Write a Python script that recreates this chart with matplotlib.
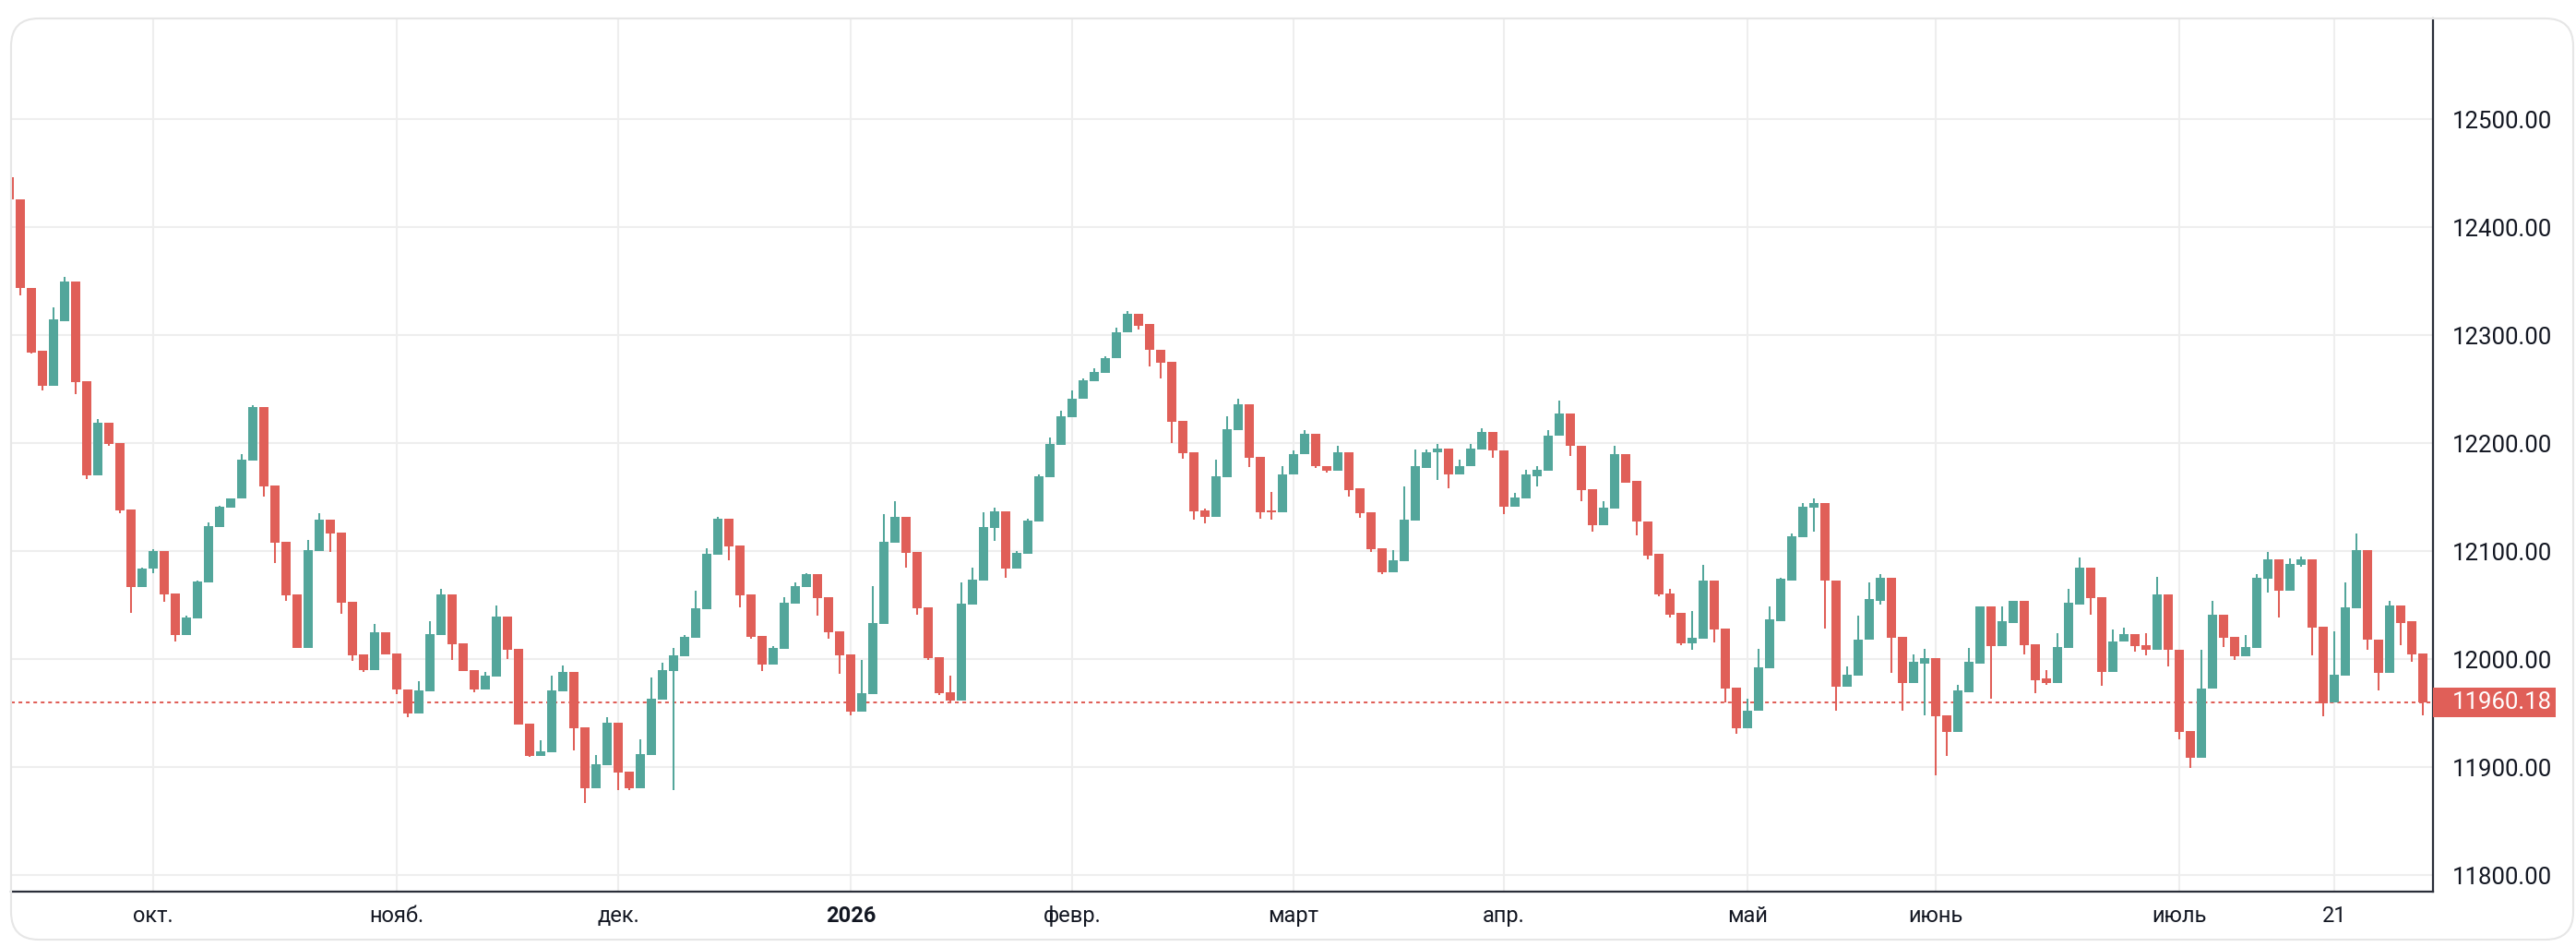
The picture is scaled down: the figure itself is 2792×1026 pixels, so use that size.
import matplotlib.pyplot as plt
from matplotlib.patches import Rectangle, FancyBboxPatch
from matplotlib.transforms import blended_transform_factory, IdentityTransform

plt.rcParams['font.family'] = ['Roboto', 'DejaVu Sans']

# daily candles (trading days, left to right)
opens = [
    12446.7, 12426.0, 12344.0, 12285.3, 12253.0, 12313.4, 12349.3, 12257.2, 12170.3, 12218.6,
    12200.0, 12138.2, 12067.0, 12083.7, 12100.0, 12060.8, 12022.5, 12037.9, 12071.2, 12122.5,
    12140.5, 12149.0, 12184.0, 12233.3, 12160.5, 12108.5, 12059.8, 12010.5, 12100.3, 12129.0,
    12117.0, 12053.0, 12004.2, 11990.2, 12024.8, 12005.0, 11971.8, 11949.9, 11970.4, 12022.5,
    12059.8, 12014.5, 11989.7, 11972.1, 11984.0, 12039.3, 12009.4, 11940.2, 11910.3, 11914.0,
    11970.4, 11988.0, 11936.8, 11880.6, 11902.0, 11941.0, 11895.7, 11880.6, 11911.4, 11962.7,
    11989.2, 12002.8, 12019.9, 12046.2, 12096.6, 12129.9, 12105.1, 12059.8, 12021.4, 11994.9,
    12009.4, 12051.3, 12066.7, 12078.6, 12057.3, 12025.6, 12004.3, 11951.3, 11967.5, 12032.5,
    12107.7, 12131.6, 12099.1, 12047.9, 12001.7, 11969.2, 11961.5, 12050.4, 12072.6, 12121.2,
    12136.6, 12083.7, 12097.3, 12127.2, 12168.2, 12198.1, 12223.7, 12240.8, 12257.0, 12264.7,
    12278.4, 12302.3, 12320.2, 12310.0, 12286.9, 12275.0, 12220.3, 12191.3, 12137.5, 12131.5,
    12168.2, 12211.8, 12235.7, 12187.0, 12137.5, 12135.7, 12170.7, 12189.5, 12209.1, 12179.2,
    12174.1, 12191.2, 12157.9, 12135.7, 12102.4, 12080.2, 12090.5, 12128.0, 12177.5, 12191.2,
    12195.4, 12170.7, 12178.4, 12194.6, 12210.0, 12193.7, 12140.8, 12148.5, 12169.8, 12174.1,
    12206.6, 12227.9, 12198.0, 12157.8, 12124.5, 12139.9, 12190.3, 12164.7, 12127.9, 12097.2,
    12060.5, 12042.5, 12015.1, 12019.4, 12072.4, 12028.8, 11974.1, 11936.5, 11951.9, 11991.2,
    12035.6, 12073.2, 12113.4, 12140.7, 12145.0, 12073.2, 11974.4, 11985.2, 12017.7, 12054.4,
    12075.8, 12021.1, 11978.3, 11996.3, 12001.4, 11948.4, 11933.0, 11969.8, 11996.3, 12049.3,
    12012.5, 12033.9, 12053.6, 12014.2, 11981.8, 11978.3, 12010.8, 12051.0, 12085.2, 12057.8,
    11988.6, 12016.0, 12023.6, 12013.4, 12008.3, 12060.4, 12009.1, 11933.9, 11908.3, 11972.4,
    12041.6, 12021.1, 12003.1, 12010.8, 12074.9, 12092.9, 12063.8, 12087.7, 12092.9, 12030.5,
    11959.8, 11985.2, 12047.6, 12101.4, 12018.5, 11987.7, 12050.1, 12034.8, 12005.7,
]
highs = [
    12446.7, 12426.0, 12344.0, 12285.3, 12325.5, 12353.6, 12349.3, 12257.2, 12222.2, 12218.6,
    12200.0, 12138.2, 12084.6, 12101.6, 12100.0, 12060.8, 12040.2, 12072.5, 12126.5, 12141.8,
    12149.3, 12189.5, 12235.0, 12233.3, 12160.5, 12108.5, 12059.8, 12110.1, 12135.0, 12129.0,
    12117.0, 12053.0, 12004.2, 12032.4, 12024.8, 12005.0, 11971.8, 11979.5, 12035.0, 12065.0,
    12059.8, 12014.5, 11989.7, 11988.0, 12049.6, 12039.3, 12009.4, 11940.2, 11924.8, 11984.6,
    11994.0, 11988.0, 11936.8, 11911.1, 11946.2, 11941.0, 11895.7, 11925.6, 11982.9, 11996.6,
    12010.3, 12022.2, 12063.2, 12102.6, 12131.6, 12129.9, 12105.1, 12059.8, 12021.4, 12012.0,
    12057.3, 12070.9, 12079.5, 12078.6, 12057.3, 12025.6, 12004.3, 11999.1, 12067.5, 12134.2,
    12146.2, 12131.6, 12099.1, 12047.9, 12001.7, 11984.6, 12070.9, 12084.6, 12135.9, 12140.0,
    12136.6, 12099.9, 12129.8, 12170.8, 12204.9, 12229.7, 12249.3, 12259.6, 12269.0, 12280.1,
    12307.4, 12322.8, 12320.2, 12310.0, 12286.9, 12275.0, 12220.3, 12191.3, 12139.2, 12184.4,
    12224.6, 12241.6, 12235.7, 12187.0, 12154.5, 12179.2, 12193.7, 12211.7, 12209.1, 12179.2,
    12198.0, 12191.2, 12157.9, 12135.7, 12102.4, 12100.7, 12159.6, 12194.6, 12194.6, 12199.7,
    12195.4, 12184.4, 12199.7, 12214.2, 12210.0, 12193.7, 12153.6, 12175.8, 12179.2, 12211.7,
    12239.9, 12227.9, 12198.0, 12157.8, 12145.9, 12198.0, 12190.3, 12164.7, 12127.9, 12097.2,
    12064.7, 12042.5, 12045.0, 12087.7, 12072.4, 12028.8, 11974.1, 11963.8, 12009.9, 12049.3,
    12075.8, 12116.0, 12145.0, 12149.3, 12145.0, 12073.2, 11993.7, 12040.7, 12071.5, 12079.2,
    12075.8, 12021.1, 12004.8, 12010.0, 12001.4, 11948.4, 11976.6, 12010.8, 12049.3, 12049.3,
    12049.3, 12054.4, 12053.6, 12014.2, 11989.5, 12024.5, 12064.7, 12094.6, 12085.2, 12057.8,
    12027.9, 12029.6, 12023.6, 12024.5, 12076.6, 12060.4, 12009.1, 11933.9, 12008.3, 12054.4,
    12041.6, 12021.1, 12022.8, 12079.2, 12099.7, 12092.9, 12093.7, 12095.4, 12092.9, 12030.5,
    12026.2, 12070.7, 12116.0, 12101.4, 12018.5, 12054.4, 12050.1, 12034.8, 12005.7,
]
lows = [
    12425.5, 12336.9, 12283.0, 12248.7, 12253.0, 12313.4, 12245.4, 12167.0, 12170.3, 12198.0,
    12135.3, 12043.1, 12067.0, 12079.4, 12053.0, 12016.7, 12022.5, 12037.9, 12071.2, 12122.5,
    12140.5, 12149.0, 12184.0, 12150.7, 12089.2, 12054.2, 12010.5, 12010.5, 12100.3, 12099.3,
    12041.8, 11998.7, 11988.2, 11990.2, 12004.6, 11968.0, 11946.4, 11949.9, 11970.4, 12022.5,
    11999.1, 11989.2, 11969.2, 11972.1, 11984.0, 12000.0, 11939.6, 11909.4, 11910.3, 11914.0,
    11970.4, 11915.7, 11866.9, 11880.6, 11902.0, 11878.9, 11878.9, 11880.6, 11911.4, 11962.7,
    11878.9, 12002.8, 12019.9, 12046.2, 12096.6, 12091.5, 12047.9, 12018.8, 11988.9, 11994.9,
    12009.4, 12051.3, 12066.7, 12040.2, 12018.8, 11986.3, 11947.9, 11951.3, 11967.5, 12032.5,
    12107.7, 12084.6, 12041.0, 11999.1, 11966.7, 11959.8, 11961.5, 12050.4, 12072.6, 12109.3,
    12075.1, 12083.7, 12097.3, 12127.2, 12168.2, 12198.1, 12223.7, 12240.8, 12257.0, 12264.7,
    12278.4, 12302.3, 12305.7, 12271.5, 12259.6, 12199.8, 12185.3, 12128.9, 12125.5, 12131.5,
    12168.2, 12211.8, 12177.6, 12129.8, 12128.9, 12135.7, 12170.7, 12189.5, 12177.5, 12172.4,
    12174.1, 12151.0, 12130.6, 12099.0, 12078.5, 12080.2, 12090.5, 12128.0, 12177.5, 12166.4,
    12158.7, 12170.7, 12178.4, 12194.6, 12186.1, 12134.0, 12140.8, 12148.5, 12159.6, 12174.1,
    12206.6, 12188.6, 12146.7, 12118.5, 12124.5, 12139.9, 12163.0, 12115.1, 12092.9, 12058.7,
    12039.0, 12013.4, 12009.1, 12019.4, 12015.9, 11960.4, 11931.3, 11936.5, 11951.9, 11991.2,
    12035.6, 12073.2, 12113.4, 12118.5, 12028.8, 11951.9, 11974.4, 11985.2, 12017.7, 12051.0,
    11987.7, 11952.7, 11978.3, 11948.4, 11892.9, 11910.8, 11933.0, 11969.8, 11996.3, 11963.8,
    12012.5, 12033.9, 12004.8, 11968.9, 11976.6, 11978.3, 12010.8, 12051.0, 12041.6, 11975.8,
    11988.6, 12016.0, 12006.6, 12004.0, 12008.3, 11993.7, 11925.4, 11898.9, 11908.3, 11972.4,
    12011.7, 11998.9, 12003.1, 12010.8, 12062.1, 12039.0, 12063.8, 12086.0, 12004.0, 11947.6,
    11959.8, 11985.2, 12047.6, 12009.1, 11971.5, 11987.7, 12013.4, 11997.2, 11948.4,
]
closes = [
    12425.5, 12343.8, 12284.3, 12252.9, 12314.4, 12349.3, 12256.2, 12170.3, 12218.6, 12199.0,
    12137.9, 12067.0, 12083.7, 12100.0, 12060.1, 12022.5, 12038.6, 12071.9, 12122.9, 12140.8,
    12149.3, 12184.6, 12233.3, 12160.1, 12107.8, 12059.2, 12010.5, 12100.7, 12129.0, 12116.3,
    12052.3, 12003.9, 11990.2, 12024.8, 12004.6, 11972.0, 11949.9, 11970.9, 12023.1, 12059.8,
    12014.0, 11989.2, 11972.1, 11984.6, 12039.3, 12008.8, 11939.6, 11910.3, 11914.5, 11970.9,
    11988.0, 11936.2, 11880.6, 11902.6, 11941.0, 11895.2, 11880.6, 11912.0, 11963.2, 11989.7,
    12003.4, 12020.5, 12047.0, 12097.4, 12129.9, 12104.3, 12059.0, 12020.5, 11994.9, 12010.3,
    12052.1, 12067.5, 12078.6, 12056.4, 12024.8, 12003.4, 11951.3, 11968.4, 12033.3, 12108.5,
    12131.6, 12098.3, 12047.0, 12000.9, 11968.4, 11961.5, 12051.3, 12073.5, 12122.2, 12136.6,
    12083.7, 12098.2, 12128.1, 12169.1, 12198.9, 12224.6, 12241.6, 12257.9, 12265.6, 12279.2,
    12303.1, 12320.2, 12309.1, 12286.1, 12274.1, 12219.4, 12190.4, 12136.6, 12131.5, 12169.1,
    12212.6, 12235.7, 12186.1, 12135.8, 12135.8, 12171.5, 12190.3, 12209.1, 12178.4, 12174.1,
    12191.2, 12157.0, 12134.9, 12101.6, 12080.2, 12091.3, 12128.9, 12178.4, 12192.0, 12195.4,
    12170.7, 12179.2, 12195.4, 12210.0, 12192.9, 12140.8, 12149.4, 12170.7, 12175.0, 12207.4,
    12227.9, 12197.2, 12157.0, 12124.5, 12140.7, 12190.3, 12163.8, 12127.1, 12096.3, 12059.6,
    12041.6, 12015.1, 12020.2, 12072.4, 12027.9, 11973.2, 11936.5, 11952.7, 11992.9, 12036.5,
    12074.1, 12114.2, 12141.6, 12145.0, 12072.4, 11974.4, 11986.0, 12018.5, 12055.3, 12075.8,
    12020.2, 11978.3, 11997.2, 12001.4, 11947.6, 11933.0, 11970.7, 11997.2, 12049.3, 12012.5,
    12034.8, 12053.6, 12013.4, 11980.9, 11978.3, 12011.7, 12051.9, 12085.2, 12057.0, 11988.6,
    12016.8, 12023.6, 12012.5, 12008.3, 12060.4, 12008.3, 11933.0, 11908.3, 11973.2, 12041.6,
    12020.2, 12003.1, 12011.7, 12075.8, 12092.9, 12063.8, 12088.6, 12092.9, 12029.6, 11959.0,
    11986.0, 12048.4, 12101.4, 12017.7, 11987.7, 12050.1, 12033.9, 12004.8, 11960.18,
]

# index of the first trading day shown for each label
tick_idx = [13, 35, 55, 76, 96, 116, 135, 157, 174, 196, 210]
tick_labels = ["окт.", "нояб.", "дек.", "2026", "февр.", "март", "апр.", "май", "июнь", "июль", "21"]
y_ticks = [11800, 11900, 12000, 12100, 12200, 12300, 12400, 12500]
last_price = closes[-1]

UP = '#53a69b'
DOWN = '#e05f58'
AXIS = '#2a2e39'
GRID = '#eeeeee'

W, H = 2792, 1026
fig = plt.figure(figsize=(W / 100, H / 100), dpi=100)
ax = fig.add_axes([12 / W, 1 - 966 / H, (2637 - 12) / W, (966 - 20) / H])

x = list(range(len(opens)))
col = [UP if c >= o else DOWN for o, c in zip(opens, closes)]
ax.vlines(x, lows, highs, colors=col, linewidth=1.45, zorder=2)
bottoms = [min(o, c) for o, c in zip(opens, closes)]
heights = [max(abs(c - o), 0.9) for o, c in zip(opens, closes)]
ax.bar(x, heights, bottom=bottoms, width=10 / 12, color=col, linewidth=0, zorder=3)

ax.set_xlim(0.17, 218.92)
ax.set_ylim(11784.8, 12593.3)

ax.set_xticks(tick_idx)
ax.set_xticklabels(tick_labels)
ax.set_yticks(y_ticks)
ax.set_yticklabels([f"{v:.2f}" for v in y_ticks])
ax.yaxis.tick_right()
ax.tick_params(axis='y', length=0, pad=15, labelsize=18.5, labelcolor='#131722')
ax.tick_params(axis='x', length=0, pad=11, labelsize=17, labelcolor='#131722')
for lab in ax.get_xticklabels():
    if lab.get_text() == "2026":
        lab.set_fontweight('bold')

ax.grid(True, color=GRID, linewidth=1.45, zorder=0)
ax.set_axisbelow(True)
for s in ('top', 'left'):
    ax.spines[s].set_visible(False)
for s in ('right', 'bottom'):
    ax.spines[s].set_color(AXIS)
    ax.spines[s].set_linewidth(1.6)

# last price line and label
ax.axhline(last_price, color=DOWN, linewidth=1.45, linestyle=(0, (2, 2)), zorder=1)
tr = blended_transform_factory(ax.transAxes, ax.transData)
ax.add_patch(Rectangle((1.0, last_price - 13.9), 133 / 2625, 27.8, transform=tr,
                       facecolor=DOWN, edgecolor='none', clip_on=False, zorder=5))
ax.text(1.008, last_price, f"{last_price:.2f}", transform=tr, color='white',
        fontsize=18.5, va='center', ha='left', zorder=6)

# rounded frame around the widget
frame = FancyBboxPatch((12, 8), 2777, 998, boxstyle="round,pad=0,rounding_size=30",
                       transform=IdentityTransform(), facecolor='none',
                       edgecolor='#e6e6e6', linewidth=1.5)
fig.patches.append(frame)

fig.savefig('out.png', dpi=100)
